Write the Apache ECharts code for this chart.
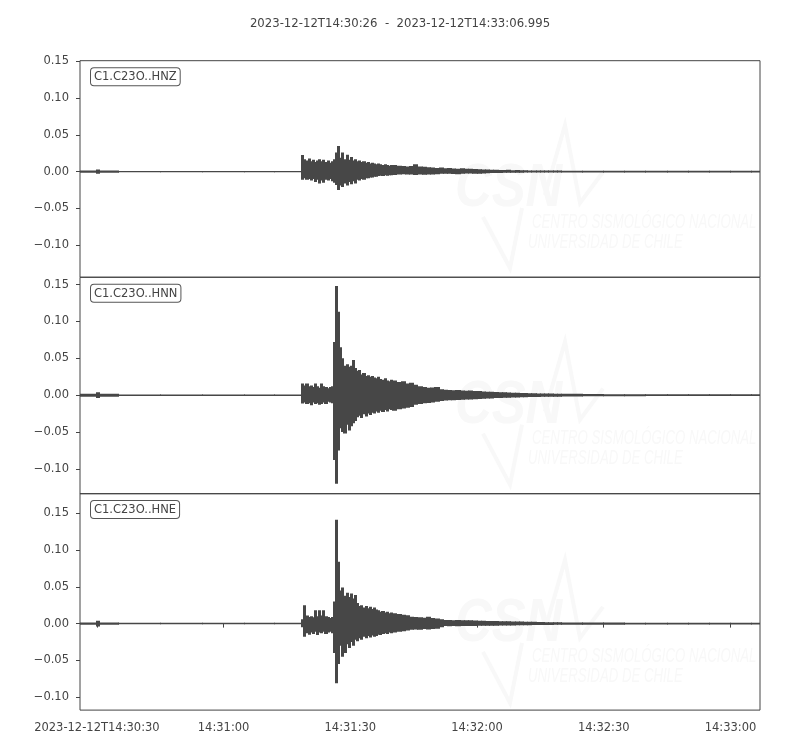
<!DOCTYPE html>
<html>
<head>
<meta charset="utf-8">
<script src="https://cdn.jsdelivr.net/npm/echarts@6/dist/echarts.min.js"></script>
<style>html,body{margin:0;padding:0;background:#fff;}#chart{width:800px;height:750px;}</style>
</head>
<body>
<div id="chart"></div>
<script>
// ---- data (seconds after 14:30:00, envelope of each trace per time bin) ----
const titleText = '2023-12-12T14:30:26  -  2023-12-12T14:33:06.995';
const traceNames = ['C1.C23O..HNZ', 'C1.C23O..HNN', 'C1.C23O..HNE'];
const tStart = 26;
const tEnd = 186.995;
const xTickValues = [30, 60, 90, 120, 150, 180];
const xTickLabels = ['2023-12-12T14:30:30', '14:31:00', '14:31:30', '14:32:00', '14:32:30', '14:33:00'];
const yTickValues = [-0.10, -0.05, 0.00, 0.05, 0.10, 0.15];
const yRanges = [[-0.1435, 0.1508], [-0.1338, 0.1599], [-0.1175, 0.1766]];

const binStart = [26, 29.8, 30.6, 35, 45, 55, 65, 72,
  78.5, 79, 79.5, 80, 80.5, 81, 81.5, 82, 82.5, 83, 83.5, 84, 84.5, 85, 85.5, 86, 86.5, 87, 87.5, 88, 88.5, 89, 89.5,
  90, 90.5, 91, 91.5, 92, 92.5, 93, 93.5, 94, 94.5, 95, 95.5, 96, 96.5, 97, 97.5, 98, 98.5, 99, 99.5,
  100, 101, 102, 103, 104, 105, 106, 107, 108, 109, 110, 111, 112, 113, 114, 115, 116, 117, 118, 119,
  120, 121, 122, 123, 124, 125, 126, 127, 128, 129, 130, 131, 132, 133, 134, 135, 136, 137, 138, 139,
  140, 145, 150, 155, 160, 165, 170, 175, 180, 185];

const upperZ = [0.0015, 0.003, 0.0015, 0.001, 0.001, 0.001, 0.001, 0.001,
  0.0227, 0.017, 0.015, 0.018, 0.014, 0.016, 0.013, 0.015, 0.017, 0.014, 0.016, 0.013, 0.015, 0.012, 0.014, 0.017, 0.026, 0.035, 0.019, 0.026, 0.017, 0.023, 0.016,
  0.020, 0.015, 0.017, 0.014, 0.015, 0.013, 0.014, 0.012, 0.013, 0.011, 0.012, 0.011, 0.010, 0.011, 0.010, 0.009, 0.010, 0.009, 0.008, 0.009,
  0.009, 0.008, 0.0077, 0.007, 0.0075, 0.010, 0.007, 0.0065, 0.006, 0.0055, 0.005, 0.0055, 0.0045, 0.005, 0.0042, 0.004, 0.0045, 0.0038, 0.004, 0.0035,
  0.0033, 0.003, 0.0028, 0.0025, 0.0027, 0.0023, 0.0022, 0.0024, 0.002, 0.0021, 0.0019, 0.0018, 0.0017, 0.0016, 0.0016, 0.0015, 0.0015, 0.0014, 0.0014, 0.0014,
  0.0013, 0.0012, 0.0012, 0.0012, 0.0011, 0.0011, 0.0011, 0.0011, 0.0011, 0.0011];
const lowerZ = [-0.0015, -0.003, -0.0015, -0.001, -0.001, -0.001, -0.001, -0.001,
  -0.011, -0.009, -0.011, -0.010, -0.012, -0.010, -0.014, -0.011, -0.016, -0.012, -0.015, -0.011, -0.012, -0.010, -0.013, -0.015, -0.018, -0.025, -0.019, -0.021, -0.016, -0.019, -0.014,
  -0.017, -0.013, -0.016, -0.011, -0.012, -0.010, -0.011, -0.009, -0.009, -0.008, -0.008, -0.007, -0.007, -0.006, -0.0055, -0.006, -0.005, -0.0055, -0.005, -0.005,
  -0.0045, -0.004, -0.0035, -0.004, -0.0038, -0.0045, -0.004, -0.0042, -0.0038, -0.004, -0.0035, -0.003, -0.0028, -0.003, -0.0032, -0.0035, -0.003, -0.0027, -0.0025, -0.0028,
  -0.003, -0.0025, -0.0022, -0.002, -0.0018, -0.0017, -0.0016, -0.0015, -0.0015, -0.0014, -0.0014, -0.0013, -0.0013, -0.0013, -0.0013, -0.0013, -0.0013, -0.0013, -0.0013, -0.0013,
  -0.0012, -0.0012, -0.0011, -0.0011, -0.0011, -0.0011, -0.0011, -0.0011, -0.0011, -0.0011];

const upperN = [0.002, 0.004, 0.002, 0.001, 0.001, 0.001, 0.001, 0.001,
  0.016, 0.013, 0.016, 0.012, 0.013, 0.011, 0.016, 0.012, 0.010, 0.016, 0.012, 0.011, 0.0095, 0.011, 0.012, 0.072, 0.148, 0.113, 0.065, 0.050, 0.040, 0.042, 0.0385,
  0.040, 0.0476, 0.037, 0.033, 0.034, 0.028, 0.030, 0.026, 0.027, 0.025, 0.026, 0.024, 0.023, 0.025, 0.022, 0.021, 0.023, 0.020, 0.019, 0.021,
  0.020, 0.018, 0.019, 0.016, 0.017, 0.014, 0.012, 0.011, 0.010, 0.0105, 0.011, 0.008, 0.0075, 0.007, 0.0068, 0.007, 0.0065, 0.006, 0.0062, 0.0058,
  0.0055, 0.005, 0.0048, 0.0045, 0.0042, 0.004, 0.0038, 0.0036, 0.0034, 0.0032, 0.003, 0.0028, 0.0027, 0.0025, 0.0024, 0.0023, 0.0022, 0.0021, 0.002, 0.002,
  0.0018, 0.0016, 0.0014, 0.0013, 0.0012, 0.0012, 0.0012, 0.0011, 0.0011, 0.0011];
const lowerN = [-0.002, -0.004, -0.002, -0.001, -0.001, -0.001, -0.001, -0.001,
  -0.0113, -0.010, -0.012, -0.011, -0.0136, -0.010, -0.012, -0.011, -0.013, -0.012, -0.010, -0.012, -0.009, -0.010, -0.011, -0.088, -0.120, -0.075, -0.045, -0.050, -0.052, -0.040, -0.048,
  -0.042, -0.038, -0.035, -0.030, -0.028, -0.031, -0.026, -0.029, -0.025, -0.027, -0.024, -0.025, -0.022, -0.024, -0.021, -0.023, -0.020, -0.022, -0.019, -0.020,
  -0.021, -0.019, -0.018, -0.017, -0.016, -0.013, -0.012, -0.011, -0.0105, -0.010, -0.009, -0.008, -0.0072, -0.0068, -0.007, -0.0066, -0.0062, -0.006, -0.0058, -0.0055,
  -0.0052, -0.005, -0.0046, -0.0044, -0.004, -0.0038, -0.0036, -0.0034, -0.0032, -0.003, -0.0029, -0.0028, -0.0026, -0.0025, -0.0024, -0.0023, -0.0022, -0.0021, -0.002, -0.002,
  -0.0018, -0.0016, -0.0014, -0.0013, -0.0012, -0.0012, -0.0012, -0.0011, -0.0011, -0.0011];

const upperE = [0.0015, 0.004, 0.0015, 0.001, 0.001, 0.001, 0.001, 0.001,
  0.006, 0.025, 0.011, 0.009, 0.010, 0.0085, 0.018, 0.010, 0.018, 0.011, 0.018, 0.010, 0.009, 0.0075, 0.009, 0.030, 0.141, 0.084, 0.045, 0.049, 0.038, 0.042, 0.036,
  0.041, 0.034, 0.039, 0.028, 0.024, 0.025, 0.022, 0.024, 0.021, 0.023, 0.020, 0.022, 0.019, 0.018, 0.016, 0.017, 0.015, 0.016, 0.014, 0.015,
  0.014, 0.013, 0.012, 0.0115, 0.0092, 0.009, 0.0085, 0.008, 0.0092, 0.0075, 0.007, 0.006, 0.0048, 0.005, 0.0046, 0.0048, 0.0045, 0.0044, 0.0046, 0.0042,
  0.004, 0.0038, 0.0036, 0.0035, 0.0034, 0.0033, 0.0032, 0.0031, 0.003, 0.003, 0.0028, 0.0026, 0.0025, 0.0024, 0.0022, 0.0021, 0.002, 0.0019, 0.0018, 0.0018,
  0.0016, 0.0015, 0.0014, 0.0013, 0.0012, 0.0012, 0.0011, 0.0011, 0.0011, 0.0011];
const lowerE = [-0.0015, -0.004, -0.0015, -0.001, -0.001, -0.001, -0.001, -0.001,
  -0.005, -0.018, -0.013, -0.015, -0.012, -0.014, -0.011, -0.0156, -0.012, -0.013, -0.011, -0.014, -0.012, -0.011, -0.013, -0.040, -0.081, -0.055, -0.030, -0.045, -0.040, -0.028, -0.033,
  -0.025, -0.030, -0.022, -0.024, -0.020, -0.022, -0.018, -0.020, -0.017, -0.019, -0.016, -0.018, -0.017, -0.015, -0.0156, -0.014, -0.013, -0.014, -0.012, -0.013,
  -0.012, -0.011, -0.0105, -0.0095, -0.0085, -0.008, -0.0085, -0.0075, -0.008, -0.0075, -0.007, -0.005, -0.0034, -0.0036, -0.0034, -0.0035, -0.0033, -0.0034, -0.0032, -0.0031,
  -0.003, -0.003, -0.0029, -0.0028, -0.0028, -0.0027, -0.0026, -0.0025, -0.0025, -0.0024, -0.0023, -0.0022, -0.0021, -0.002, -0.002, -0.0019, -0.0018, -0.0018, -0.0017, -0.0017,
  -0.0016, -0.0015, -0.0014, -0.0013, -0.0012, -0.0012, -0.0011, -0.0011, -0.0011, -0.0011];

const uppers = [upperZ, upperN, upperE];
const lowers = [lowerZ, lowerN, lowerE];

// ---- layout ----
const gridLeft = 80, gridWidth = 680;
const gridTops = [60.7, 277.3, 493.6];
const gridH = 216.5;
const ink = '#444444';
const waveColor = '#474747';
const font = 'DejaVu Sans';
const fs = 11.5;

function buildData(k) {
  const d = [];
  for (let i = 0; i < binStart.length; i++) {
    const t1 = i + 1 < binStart.length ? binStart[i + 1] : tEnd;
    d.push([binStart[i], t1, lowers[k][i], uppers[k][i]]);
  }
  return d;
}

function renderWave(params, api) {
  const t0 = api.value(0), t1 = api.value(1), lo = api.value(2), hi = api.value(3);
  const p0 = api.coord([t0, hi]);
  const p1 = api.coord([t1, lo]);
  let h = p1[1] - p0[1];
  let y = p0[1];
  if (h < 1.4) { y = (p0[1] + p1[1]) / 2 - 0.7; h = 1.4; }
  const x0 = Math.floor(p0[0]);
  const x1 = Math.ceil(p1[0]);
  return {
    type: 'rect',
    shape: { x: x0, y: y, width: Math.max(1, x1 - x0), height: h },
    style: { fill: waveColor }
  };
}

const grids = [], xAxes = [], yAxes = [], series = [], graphics = [];
for (let k = 0; k < 3; k++) {
  const last = k === 2;
  grids.push({ left: gridLeft, width: gridWidth, top: gridTops[k], height: gridH,
    show: true, borderColor: ink, borderWidth: 1, backgroundColor: 'transparent' });
  xAxes.push({
    type: 'value', gridIndex: k, min: tStart, max: tEnd,
    axisLine: { show: false },
    splitLine: { show: false },
    axisTick: { show: last, length: 4, customValues: xTickValues, lineStyle: { color: ink } },
    axisLabel: { show: last, customValues: xTickValues, margin: 12, color: ink, fontFamily: font, fontSize: fs,
      formatter: v => { const i = xTickValues.indexOf(v); return i >= 0 ? xTickLabels[i] : ''; } }
  });
  yAxes.push({
    type: 'value', gridIndex: k, min: yRanges[k][0], max: yRanges[k][1],
    axisLine: { show: false },
    splitLine: { show: false },
    axisTick: { show: true, length: 4, customValues: yTickValues, lineStyle: { color: ink } },
    axisLabel: { show: true, customValues: yTickValues, margin: 11, color: ink, fontFamily: font, fontSize: fs,
      formatter: v => v.toFixed(2).replace('-', '\u2212') }
  });
  series.push({
    type: 'custom', xAxisIndex: k, yAxisIndex: k, clip: true, z: 3,
    renderItem: renderWave,
    encode: { x: [0, 1], y: [2, 3] },
    data: buildData(k),
    silent: true
  });
  // station label box
  graphics.push({
    type: 'text', left: 90, top: gridTops[k] + 6.5, z: 10,
    style: { text: traceNames[k], fill: ink, font: fs + 'px "DejaVu Sans"',
      backgroundColor: '#fff', borderColor: '#555', borderWidth: 1, borderRadius: 3, padding: [3, 3, 2, 3] }
  });
  // faint watermark
  const oy = gridTops[k] - 60.7 + (k === 2 ? 2 : 0);
  const wm = '#f8f8f8';
  graphics.push({
    type: 'group', z: 1, silent: true,
    children: [
      { type: 'polyline', shape: { points: [[483, 217 + oy], [510, 268 + oy], [522, 208 + oy]] },
        style: { stroke: wm, lineWidth: 4, fill: null } },
      { type: 'polyline', shape: { points: [[545, 195 + oy], [565, 125 + oy], [580, 203 + oy], [603, 172 + oy]] },
        style: { stroke: wm, lineWidth: 4, fill: null } },
      { type: 'text', x: 455, y: 158 + oy, scaleX: 0.82,
        style: { text: 'CSN', fill: wm, font: 'italic bold 62px "Liberation Sans"' } },
      { type: 'text', x: 532, y: 212 + oy, scaleX: 0.66,
        style: { text: 'CENTRO SISMOLÓGICO NACIONAL', fill: wm, font: 'italic 20px "Liberation Sans"' } },
      { type: 'text', x: 528, y: 232 + oy, scaleX: 0.66,
        style: { text: 'UNIVERSIDAD DE CHILE', fill: wm, font: 'italic 20px "Liberation Sans"' } }
    ]
  });
}

const chart = echarts.init(document.getElementById('chart'), null, { renderer: 'canvas' });
chart.setOption({
  backgroundColor: '#fff',
  animation: false,
  title: { text: titleText, left: 'center', top: 13,
    textStyle: { fontFamily: font, fontSize: 11.7, fontWeight: 'normal', color: ink } },
  grid: grids,
  xAxis: xAxes,
  yAxis: yAxes,
  series: series,
  graphic: graphics
});
</script>
</body>
</html>
